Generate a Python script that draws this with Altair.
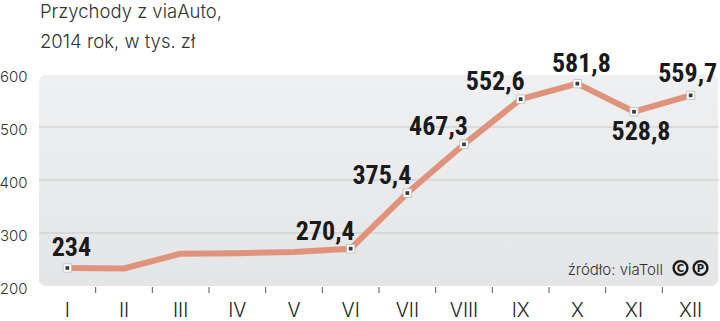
import altair as alt
import pandas as pd

months = ["I", "II", "III", "IV", "V", "VI", "VII", "VIII", "IX", "X", "XI", "XII"]
values = [234, 233, 261, 262, 264, 270.4, 375.4, 467.3, 552.6, 581.8, 528.8, 559.7]
labels = ["234", "", "", "", "", "270,4", "375,4", "467,3", "552,6", "581,8", "528,8", "559,7"]
y_ticks = [200, 300, 400, 500, 600]
grid_values = [300, 400, 500]
title_lines = ["Przychody z viaAuto,", "2014 rok, w tys. zł"]
source_text = "źródło: viaToll"

left_above = ["VI", "VII", "VIII", "IX"]
center_above = ["I", "X"]
center_above_left = ["XII"]
below = ["XI"]

W, H = 680, 212
FONT = "Inter, Roboto"

df = pd.DataFrame({"m": months, "v": values, "lab": labels})
df_marked = df[df["lab"] != ""]
df_bounds = pd.DataFrame({"m": months[1:]})
df_grid = pd.DataFrame({"v": grid_values})

xscale = alt.Scale(type="band", domain=months, paddingInner=0, paddingOuter=0)
yscale = alt.Scale(domain=[200, 600], nice=False, zero=False)

xaxis = alt.Axis(title=None, ticks=False, domain=False, labelAngle=0,
                 labelFont=FONT, labelFontSize=19.5, labelColor="#1e1e1e",
                 labelPadding=15, labelFontWeight=300)
yaxis = alt.Axis(title=None, values=y_ticks, ticks=False, domain=False, grid=False,
                 labelFont=FONT, labelFontSize=15, labelColor="#333",
                 labelPadding=12, labelFontWeight=300, labelOffset=2)

X = alt.X("m:N", scale=xscale, sort=months, axis=xaxis)
Y = alt.Y("v:Q", scale=yscale, axis=yaxis)

bg = alt.Chart(df).mark_rect(
    cornerRadius=8,
    color=alt.LinearGradient(gradient="linear", x1=0, y1=0, x2=0, y2=1,
                             stops=[alt.GradientStop(offset=0, color="#eff0f1"),
                                    alt.GradientStop(offset=1, color="#e4e5e6")]),
).encode(x=alt.value(0), x2=alt.value(W - 1), y=alt.value(1), y2=alt.value(H))

grid = alt.Chart(df_grid).mark_rule(color="#c9c9c9", strokeWidth=1).encode(y=Y)

ticks = alt.Chart(df_bounds).mark_rule(color="#555", strokeWidth=1).encode(
    x=alt.X("m:N", scale=xscale, sort=months, bandPosition=0, axis=xaxis),
    y=alt.value(H + 1), y2=alt.value(H + 7))

line = alt.Chart(df).mark_line(color="#e0937c", strokeWidth=6, strokeCap="round",
                               strokeJoin="round").encode(x=X, y=Y)

outer = alt.Chart(df_marked).mark_square(size=70, color="white", opacity=1,
                                         stroke="#bbb", strokeWidth=0.8).encode(x=X, y=Y)
inner = alt.Chart(df_marked).mark_square(size=14, color="#3a3a3a", opacity=1).encode(x=X, y=Y)

lab_font = dict(font="Roboto Condensed, Liberation Sans Narrow, Roboto", fontSize=26,
                fontWeight="bold", color="#1a1a1a")


def label_layer(group, **kw):
    return alt.Chart(df_marked).transform_filter(
        alt.FieldOneOfPredicate(field="m", oneOf=group)
    ).mark_text(baseline="alphabetic", **kw, **lab_font).encode(x=X, y=Y, text="lab:N")


t_left = label_layer(left_above, align="right", dx=4, dy=-9)
t_center = label_layer(center_above, align="center", dx=4, dy=-12)
t_center_l = label_layer(center_above_left, align="center", dx=-3, dy=-13)
t_below = label_layer(below, align="center", dx=7, dy=28)

title = alt.Chart(df.head(1)).mark_text(
    align="left", baseline="alphabetic", font=FONT, fontSize=18.5, fontWeight=300,
    color="#333", lineHeight=30
).encode(x=alt.value(1), y=alt.value(-56), text=alt.value(title_lines))

source = alt.Chart(df.head(1)).mark_text(
    align="right", baseline="alphabetic", font=FONT, fontSize=15, fontWeight=300,
    color="#333"
).encode(x=alt.value(624), y=alt.value(201), text=alt.value(source_text))

cp_df = pd.DataFrame({"c": ["C", "P"], "px": [641.5, 661.5]})
cp_circles = alt.Chart(cp_df).mark_point(
    shape="circle", size=190, filled=False, stroke="#1a1a1a", strokeWidth=2.4, opacity=1
).encode(x=alt.X("px:Q", scale=None), y=alt.value(194))
cp_letters = alt.Chart(cp_df).mark_text(
    font="DejaVu Sans", fontWeight="bold", fontSize=10, color="#1a1a1a",
    baseline="middle", align="center"
).encode(x=alt.X("px:Q", scale=None), y=alt.value(194.5), text="c:N")

chart = alt.layer(
    bg, grid, ticks, line, outer, inner, t_left, t_center, t_center_l, t_below,
    title, source, cp_circles, cp_letters
).properties(
    width=W, height=H,
    autosize=alt.AutoSizeParams(type="none"),
    padding={"left": 39, "top": 74, "right": 1, "bottom": 35},
).configure_view(stroke=None)

chart.save("out.html", embed_options={"renderer": "svg", "actions": False})
